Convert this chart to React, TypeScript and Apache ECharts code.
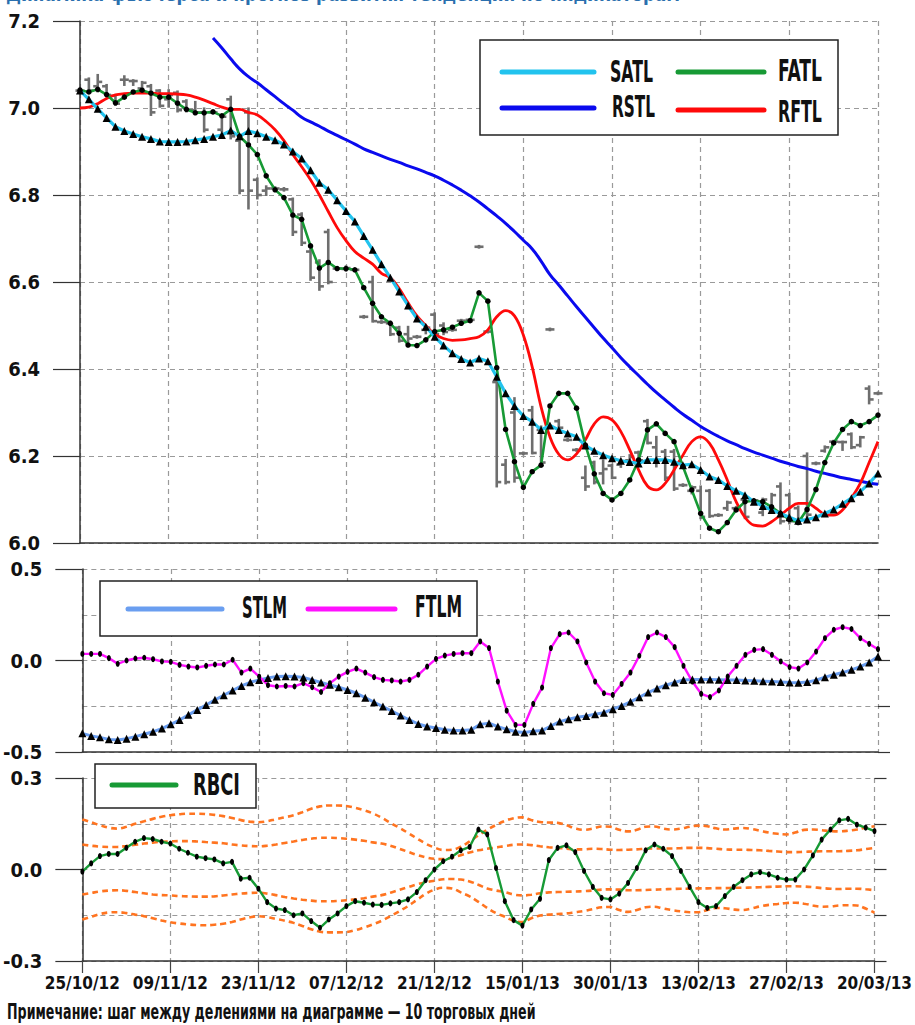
import React, { useEffect, useRef } from 'react';
import * as echarts from 'echarts';

const FONT = "'Liberation Sans Narrow', 'Arial Narrow', 'DejaVu Sans Condensed', sans-serif";

const tickLabels = ['25/10/12', '09/11/12', '23/11/12', '07/12/12', '21/12/12', '15/01/13', '30/01/13', '13/02/13', '27/02/13', '20/03/13'];

const satl = [7.040, 7.020, 6.998, 6.977, 6.957, 6.947, 6.940, 6.934, 6.929, 6.923,
  6.922, 6.922, 6.923, 6.926, 6.929, 6.934, 6.938, 6.948, 6.935, 6.947,
  6.942, 6.934, 6.926, 6.916, 6.900, 6.884, 6.857, 6.828, 6.812, 6.788,
  6.763, 6.739, 6.706, 6.674, 6.641, 6.610, 6.578, 6.546, 6.516, 6.497,
  6.474, 6.454, 6.436, 6.423, 6.415, 6.424, 6.418, 6.382, 6.344, 6.315,
  6.292, 6.279, 6.260, 6.270, 6.260, 6.252, 6.244, 6.224, 6.212, 6.202,
  6.195, 6.189, 6.186, 6.183, 6.191, 6.191, 6.191, 6.187, 6.179, 6.181,
  6.168, 6.153, 6.145, 6.131, 6.120, 6.110, 6.095, 6.085, 6.076, 6.068,
  6.059, 6.051, 6.054, 6.059, 6.068, 6.077, 6.090, 6.103, 6.118, 6.137,
  6.160];

const fatl = [7.041, 7.037, 7.043, 7.031, 7.012, 7.025, 7.037, 7.041, 7.034, 7.025,
  7.025, 7.011, 6.997, 6.989, 6.989, 6.991, 6.982, 6.997, 6.935, 6.915,
  6.893, 6.844, 6.812, 6.794, 6.754, 6.744, 6.683, 6.632, 6.645, 6.631,
  6.631, 6.628, 6.587, 6.551, 6.520, 6.505, 6.482, 6.455, 6.454, 6.467,
  6.486, 6.490, 6.496, 6.505, 6.511, 6.575, 6.556, 6.403, 6.261, 6.187,
  6.128, 6.164, 6.179, 6.315, 6.344, 6.344, 6.310, 6.225, 6.159, 6.114,
  6.099, 6.114, 6.145, 6.191, 6.260, 6.274, 6.252, 6.233, 6.176, 6.122,
  6.068, 6.034, 6.026, 6.047, 6.076, 6.095, 6.097, 6.095, 6.083, 6.068,
  6.054, 6.047, 6.077, 6.123, 6.185, 6.230, 6.261, 6.279, 6.270, 6.279,
  6.294];

const rftl = [7.000, 7.002, 7.010, 7.022, 7.030, 7.033, 7.034, 7.034, 7.034, 7.033,
  7.033, 7.032, 7.030, 7.025, 7.018, 7.010, 7.002, 6.997, 6.997, 6.990,
  6.984, 6.969, 6.950, 6.925, 6.893, 6.865, 6.835, 6.800, 6.762, 6.725,
  6.695, 6.670, 6.655, 6.641, 6.620, 6.610, 6.585, 6.552, 6.522, 6.500,
  6.480, 6.470, 6.466, 6.467, 6.470, 6.474, 6.490, 6.520, 6.534, 6.522,
  6.478, 6.405, 6.313, 6.244, 6.204, 6.191, 6.205, 6.237, 6.274, 6.290,
  6.283, 6.256, 6.214, 6.168, 6.131, 6.122, 6.137, 6.168, 6.202, 6.233,
  6.244, 6.229, 6.191, 6.145, 6.095, 6.059, 6.041, 6.039, 6.049, 6.064,
  6.080, 6.091, 6.091, 6.080, 6.066, 6.064, 6.076, 6.103, 6.137, 6.185,
  6.233];

const rstl = [null, null, null, null, null, null, null, null, null, null,
  null, null, null, null, null, 7.161, 7.138, 7.113, 7.090, 7.072,
  7.058, 7.042, 7.026, 7.010, 6.995, 6.979, 6.968, 6.958, 6.947, 6.937,
  6.927, 6.917, 6.906, 6.898, 6.890, 6.882, 6.875, 6.867, 6.860, 6.852,
  6.844, 6.834, 6.823, 6.811, 6.798, 6.784, 6.768, 6.752, 6.735, 6.716,
  6.696, 6.676, 6.648, 6.617, 6.593, 6.568, 6.543, 6.519, 6.495, 6.471,
  6.449, 6.426, 6.405, 6.385, 6.365, 6.346, 6.329, 6.312, 6.296, 6.282,
  6.268, 6.256, 6.245, 6.235, 6.226, 6.217, 6.209, 6.202, 6.195, 6.188,
  6.182, 6.176, 6.171, 6.165, 6.160, 6.155, 6.150, 6.146, 6.142, 6.138,
  6.135];

const barOpen = [7.040, 7.065, 7.050, 7.050, 7.028, 7.065, 7.062, 7.045, 7.050, 7.040,
  7.020, 7.035, 7.015, 6.995, 6.990, 6.990, 6.950, 7.020, 6.925, 6.990,
  6.835, 6.810, 6.815, 6.813, 6.790, 6.755, 6.670, 6.645, 6.715, 6.631,
  6.630, 6.628, 6.520, 6.600, 6.508, 6.505, 6.495, 6.480, 6.474, 6.490,
  6.525, 6.500, 6.490, 6.511, 6.513, 6.681, 6.486, 6.370, 6.180, 6.300,
  6.206, 6.305, 6.260, 6.491, 6.280, 6.237, 6.214, 6.150, 6.185, 6.160,
  6.178, 6.180, 6.190, 6.208, 6.280, 6.220, 6.210, 6.210, 6.133, 6.120,
  6.120, 6.120, 6.064, 6.080, 6.080, 6.100, 6.098, 6.070, 6.080, 6.130,
  6.110, 6.080, 6.200, 6.183, 6.212, 6.233, 6.232, 6.250, 6.225, 6.355,
  6.344];
const barHigh = [7.045, 7.068, 7.076, 7.053, 7.030, 7.073, 7.064, 7.060, 7.053, 7.041,
  7.041, 7.038, 7.018, 7.014, 6.999, 6.995, 6.984, 7.026, 6.930, 6.999,
  6.838, 6.820, 6.818, 6.816, 6.792, 6.758, 6.677, 6.650, 6.720, 6.634,
  6.636, 6.630, 6.522, 6.612, 6.510, 6.509, 6.497, 6.497, 6.476, 6.497,
  6.528, 6.505, 6.492, 6.513, 6.515, 6.683, 6.488, 6.382, 6.191, 6.333,
  6.208, 6.313, 6.268, 6.493, 6.283, 6.239, 6.216, 6.176, 6.187, 6.190,
  6.180, 6.190, 6.202, 6.210, 6.283, 6.244, 6.214, 6.214, 6.135, 6.130,
  6.130, 6.122, 6.066, 6.095, 6.083, 6.106, 6.100, 6.102, 6.113, 6.137,
  6.113, 6.084, 6.206, 6.185, 6.222, 6.235, 6.233, 6.252, 6.244, 6.360,
  6.346];
const barLow = [7.035, 7.034, 7.038, 7.027, 7.007, 7.053, 7.053, 7.038, 6.984, 7.003,
  7.003, 6.992, 6.992, 6.988, 6.946, 6.988, 6.946, 6.930, 6.804, 6.769,
  6.792, 6.800, 6.812, 6.810, 6.708, 6.685, 6.605, 6.582, 6.597, 6.629,
  6.626, 6.625, 6.518, 6.509, 6.506, 6.478, 6.463, 6.459, 6.472, 6.482,
  6.478, 6.480, 6.488, 6.509, 6.511, 6.679, 6.484, 6.130, 6.137, 6.141,
  6.204, 6.206, 6.180, 6.489, 6.260, 6.235, 6.212, 6.122, 6.137, 6.137,
  6.149, 6.175, 6.180, 6.187, 6.229, 6.176, 6.145, 6.122, 6.131, 6.114,
  6.057, 6.060, 6.062, 6.076, 6.075, 6.057, 6.095, 6.064, 6.070, 6.045,
  6.045, 6.053, 6.060, 6.181, 6.210, 6.231, 6.214, 6.218, 6.222, 6.321,
  6.342];
const barClose = [7.040, 7.040, 7.060, 7.030, 7.010, 7.065, 7.062, 7.058, 6.990, 7.005,
  7.030, 6.995, 6.995, 6.990, 6.950, 6.990, 6.980, 6.935, 6.810, 6.810,
  6.800, 6.815, 6.815, 6.813, 6.715, 6.690, 6.610, 6.590, 6.600, 6.631,
  6.632, 6.628, 6.520, 6.510, 6.508, 6.480, 6.465, 6.470, 6.474, 6.495,
  6.480, 6.485, 6.490, 6.511, 6.513, 6.681, 6.486, 6.140, 6.140, 6.150,
  6.206, 6.207, 6.185, 6.491, 6.265, 6.237, 6.214, 6.130, 6.140, 6.170,
  6.150, 6.188, 6.198, 6.190, 6.230, 6.190, 6.150, 6.125, 6.133, 6.128,
  6.060, 6.062, 6.064, 6.093, 6.080, 6.060, 6.098, 6.100, 6.110, 6.050,
  6.050, 6.055, 6.065, 6.183, 6.220, 6.233, 6.232, 6.220, 6.243, 6.330,
  6.344];

const stlm = [-0.398, -0.412, -0.420, -0.431, -0.434, -0.427, -0.416, -0.403, -0.389, -0.372,
  -0.349, -0.325, -0.297, -0.270, -0.243, -0.215, -0.190, -0.164, -0.139, -0.119,
  -0.106, -0.095, -0.088, -0.086, -0.088, -0.093, -0.106, -0.120, -0.133, -0.146,
  -0.161, -0.179, -0.203, -0.228, -0.252, -0.276, -0.301, -0.325, -0.347, -0.361,
  -0.369, -0.378, -0.383, -0.383, -0.378, -0.349, -0.343, -0.361, -0.376, -0.389,
  -0.394, -0.387, -0.383, -0.358, -0.334, -0.321, -0.310, -0.303, -0.294, -0.285,
  -0.266, -0.248, -0.226, -0.201, -0.175, -0.153, -0.135, -0.120, -0.106, -0.104,
  -0.104, -0.104, -0.105, -0.106, -0.107, -0.109, -0.111, -0.113, -0.115, -0.117,
  -0.120, -0.121, -0.118, -0.108, -0.091, -0.078, -0.066, -0.051, -0.033, -0.011,
  0.022];

const ftlm = [0.036, 0.036, 0.036, 0.013, -0.018, 0.000, 0.011, 0.015, 0.007, -0.005,
  -0.007, -0.024, -0.033, -0.038, -0.029, -0.022, -0.022, 0.004, -0.066, -0.044,
  -0.088, -0.135, -0.142, -0.139, -0.142, -0.124, -0.146, -0.172, -0.124, -0.088,
  -0.062, -0.044, -0.066, -0.091, -0.106, -0.109, -0.115, -0.106, -0.078, -0.033,
  0.009, 0.027, 0.036, 0.040, 0.040, 0.104, 0.068, -0.115, -0.274, -0.352,
  -0.352, -0.237, -0.148, 0.068, 0.144, 0.153, 0.104, -0.011, -0.115, -0.179,
  -0.188, -0.128, -0.066, 0.026, 0.128, 0.153, 0.128, 0.073, -0.029, -0.115,
  -0.182, -0.200, -0.164, -0.088, -0.029, 0.031, 0.058, 0.062, 0.031, -0.005,
  -0.036, -0.044, -0.011, 0.049, 0.122, 0.168, 0.182, 0.172, 0.122, 0.091,
  0.062];

const rbci = [-0.007, 0.020, 0.044, 0.051, 0.051, 0.071, 0.091, 0.103, 0.100, 0.091,
  0.085, 0.068, 0.055, 0.042, 0.037, 0.033, 0.020, 0.025, -0.030, -0.027,
  -0.063, -0.107, -0.128, -0.133, -0.150, -0.144, -0.169, -0.191, -0.164, -0.144,
  -0.120, -0.104, -0.109, -0.115, -0.116, -0.111, -0.107, -0.098, -0.074, -0.035,
  0.000, 0.027, 0.042, 0.063, 0.074, 0.131, 0.115, 0.005, -0.104, -0.166,
  -0.184, -0.131, -0.096, 0.031, 0.071, 0.079, 0.057, -0.005, -0.057, -0.093,
  -0.098, -0.079, -0.044, 0.005, 0.063, 0.082, 0.068, 0.044, -0.005, -0.057,
  -0.107, -0.126, -0.120, -0.087, -0.057, -0.035, -0.016, -0.009, -0.016, -0.027,
  -0.033, -0.033, 0.000, 0.046, 0.098, 0.131, 0.161, 0.166, 0.147, 0.137,
  0.126];

const bandOuterUp = [0.164, 0.155, 0.145, 0.137, 0.134, 0.140, 0.150, 0.158, 0.166, 0.173,
  0.178, 0.181, 0.183, 0.183, 0.182, 0.179, 0.175, 0.169, 0.162, 0.157,
  0.155, 0.158, 0.165, 0.171, 0.178, 0.188, 0.199, 0.207, 0.210, 0.210,
  0.208, 0.202, 0.194, 0.184, 0.170, 0.153, 0.137, 0.120, 0.102, 0.085,
  0.072, 0.064, 0.065, 0.075, 0.092, 0.112, 0.130, 0.146, 0.159, 0.168,
  0.171, 0.162, 0.156, 0.154, 0.153, 0.145, 0.135, 0.130, 0.134, 0.141,
  0.140, 0.130, 0.125, 0.130, 0.140, 0.141, 0.134, 0.131, 0.134, 0.140,
  0.144, 0.142, 0.135, 0.131, 0.134, 0.136, 0.133, 0.127, 0.121, 0.117,
  0.115, 0.121, 0.130, 0.131, 0.129, 0.126, 0.125, 0.127, 0.131, 0.137,
  0.142];
const bandInnerUp = [0.082, 0.078, 0.075, 0.074, 0.074, 0.077, 0.081, 0.085, 0.088, 0.091,
  0.092, 0.093, 0.093, 0.092, 0.090, 0.088, 0.086, 0.082, 0.079, 0.077,
  0.076, 0.078, 0.082, 0.087, 0.092, 0.097, 0.101, 0.104, 0.104, 0.103,
  0.101, 0.098, 0.094, 0.089, 0.085, 0.078, 0.068, 0.058, 0.048, 0.040,
  0.035, 0.034, 0.039, 0.047, 0.056, 0.063, 0.068, 0.072, 0.077, 0.081,
  0.082, 0.080, 0.076, 0.073, 0.071, 0.068, 0.066, 0.066, 0.068, 0.067,
  0.065, 0.064, 0.065, 0.066, 0.068, 0.069, 0.069, 0.069, 0.070, 0.071,
  0.071, 0.070, 0.068, 0.066, 0.065, 0.065, 0.064, 0.063, 0.061, 0.059,
  0.057, 0.057, 0.058, 0.059, 0.060, 0.060, 0.060, 0.061, 0.063, 0.067,
  0.071];
const bandInnerLow = [-0.082, -0.077, -0.072, -0.069, -0.068, -0.070, -0.074, -0.078, -0.082, -0.084,
  -0.085, -0.087, -0.088, -0.089, -0.089, -0.088, -0.085, -0.082, -0.079, -0.077,
  -0.076, -0.079, -0.084, -0.090, -0.095, -0.099, -0.102, -0.104, -0.104, -0.103,
  -0.101, -0.098, -0.094, -0.089, -0.084, -0.076, -0.067, -0.058, -0.049, -0.042,
  -0.037, -0.032, -0.031, -0.033, -0.039, -0.050, -0.062, -0.069, -0.074, -0.082,
  -0.085, -0.083, -0.078, -0.075, -0.074, -0.073, -0.072, -0.071, -0.069, -0.066,
  -0.065, -0.066, -0.068, -0.068, -0.067, -0.066, -0.065, -0.064, -0.063, -0.063,
  -0.062, -0.062, -0.061, -0.061, -0.060, -0.060, -0.059, -0.058, -0.057, -0.056,
  -0.055, -0.055, -0.056, -0.058, -0.061, -0.063, -0.064, -0.063, -0.063, -0.065,
  -0.068];
const bandOuterLow = [-0.164, -0.155, -0.146, -0.141, -0.140, -0.143, -0.148, -0.153, -0.160, -0.167,
  -0.173, -0.177, -0.180, -0.182, -0.183, -0.181, -0.178, -0.172, -0.164, -0.157,
  -0.153, -0.156, -0.162, -0.168, -0.175, -0.185, -0.196, -0.204, -0.206, -0.206,
  -0.205, -0.199, -0.190, -0.180, -0.168, -0.153, -0.137, -0.120, -0.100, -0.080,
  -0.066, -0.060, -0.062, -0.075, -0.088, -0.106, -0.126, -0.143, -0.155, -0.168,
  -0.172, -0.160, -0.151, -0.148, -0.146, -0.144, -0.140, -0.136, -0.130, -0.124,
  -0.123, -0.133, -0.139, -0.133, -0.124, -0.122, -0.128, -0.133, -0.137, -0.140,
  -0.140, -0.133, -0.126, -0.127, -0.131, -0.133, -0.128, -0.121, -0.116, -0.113,
  -0.110, -0.109, -0.112, -0.118, -0.122, -0.121, -0.118, -0.117, -0.118, -0.128,
  -0.142];

const pair = (arr: (number | null)[]) => arr.map((v, i) => [i, v]);

export default function App() {
  const ref = useRef<HTMLDivElement>(null);
  useEffect(() => {
    const chart = echarts.init(ref.current!, null, { renderer: 'svg' });
    const canvas = document.createElement('canvas');
    const ctx = canvas.getContext('2d');
    const fit = (text: string, size: number, target: number) => {
      if (!ctx) return 1;
      ctx.font = `bold ${size}px ${FONT}`;
      const w = ctx.measureText(text).width;
      return w > 0 ? target / w : 1;
    };

    const dash = { type: [5, 4] as any, color: '#9a9a9a', width: 1.2 };
    const axisLine = { show: true, onZero: false, lineStyle: { color: '#333', width: 1.5 } };
    const yLabelStyle = { fontSize: 20, fontWeight: 'bold' as const, fontFamily: FONT, color: '#111' };
    const xLabelStyle = { fontSize: 17, fontWeight: 'bold' as const, fontFamily: FONT, color: '#111' };
    const fmt1 = (v: number) => (Math.abs(v) < 1e-9 ? '0.0' : v.toFixed(1));

    const grids = [
      { left: 80, top: 21, width: 798, height: 522 },
      { left: 80, top: 569, width: 798, height: 183 },
      { left: 80, top: 778, width: 798, height: 183 },
    ];

    const xAxes = [0, 1, 2].map((g) => ({
      type: 'value', gridIndex: g, min: 0, max: 90, interval: 10,
      axisLine,
      axisTick: { show: g === 2, length: 12, lineStyle: { color: '#444', width: 1.2 } },
      axisLabel: {
        show: g === 2, margin: 13, showMinLabel: true, showMaxLabel: true, hideOverlap: false,
        formatter: (v: number) => tickLabels[Math.round(v / 10)], ...xLabelStyle,
      },
      splitLine: { show: true, lineStyle: dash },
    }));

    const yAxes = [
      {
        type: 'value', gridIndex: 0, min: 6.0, max: 7.2, interval: 0.2, axisLine,
        axisTick: { show: true, length: 27, lineStyle: { color: '#333', width: 1.2 } },
        axisLabel: { margin: 40, formatter: fmt1, showMinLabel: true, showMaxLabel: true, ...yLabelStyle },
        splitLine: { show: true, lineStyle: dash },
      },
      {
        type: 'value', gridIndex: 1, min: -0.5, max: 0.5, interval: 0.5, axisLine,
        axisTick: { show: true, length: 27, lineStyle: { color: '#333', width: 1.2 } },
        axisLabel: { margin: 40, formatter: fmt1, showMinLabel: true, showMaxLabel: true, ...yLabelStyle },
        splitLine: { show: false },
      },
      {
        type: 'value', gridIndex: 1, min: -0.5, max: 0.5, interval: 0.25,
        axisLine: { show: false, onZero: false },
        axisTick: { show: true, length: 12, lineStyle: { color: '#333', width: 1.2 } },
        axisLabel: { show: false },
        splitLine: { show: true, lineStyle: dash },
      },
      {
        type: 'value', gridIndex: 2, min: -0.3, max: 0.3, interval: 0.3, axisLine,
        axisTick: { show: true, length: 27, lineStyle: { color: '#333', width: 1.2 } },
        axisLabel: { margin: 40, formatter: fmt1, showMinLabel: true, showMaxLabel: true, ...yLabelStyle },
        splitLine: { show: false },
      },
      {
        type: 'value', gridIndex: 2, min: -0.3, max: 0.3, interval: 0.15,
        axisLine: { show: false, onZero: false },
        axisTick: { show: true, length: 12, lineStyle: { color: '#333', width: 1.2 } },
        axisLabel: { show: false },
        splitLine: { show: true, lineStyle: dash },
      },
    ];

    const bars = barOpen.map((o, i) => [i, o, barHigh[i], barLow[i], barClose[i]]);
    const barStyle = { stroke: '#6e6e6e', lineWidth: 2.6 };

    const line = (name: string, data: any[], xi: number, yi: number, color: string, width: number, extra: any = {}) => ({
      type: 'line', name, data, xAxisIndex: xi, yAxisIndex: yi,
      showSymbol: false, symbol: 'none',
      lineStyle: { color, width },
      itemStyle: { color: '#000' },
      silent: true,
      ...extra,
    });

    const bandOpts = { smooth: 0.4, lineStyle: { color: '#ff7420', width: 2.6, type: [6, 4] } };

    const series: any[] = [
      {
        type: 'custom', name: 'bars', xAxisIndex: 0, yAxisIndex: 0, data: bars, silent: true,
        encode: { x: 0, y: [1, 2, 3, 4] },
        renderItem: (params: any, api: any) => {
          const i = api.value(0);
          const op = api.coord([i, api.value(1)]);
          const hi = api.coord([i, api.value(2)]);
          const lo = api.coord([i, api.value(3)]);
          const cl = api.coord([i, api.value(4)]);
          const w = 4.5;
          return {
            type: 'group',
            children: [
              { type: 'line', shape: { x1: hi[0], y1: hi[1] - 1, x2: lo[0], y2: lo[1] + 1 }, style: barStyle },
              { type: 'line', shape: { x1: op[0] - w, y1: op[1], x2: op[0], y2: op[1] }, style: barStyle },
              { type: 'line', shape: { x1: cl[0], y1: cl[1], x2: cl[0] + w, y2: cl[1] }, style: barStyle },
            ],
          };
        },
      },
      line('RSTL', rstl.map((v, i) => (v == null ? null : [i, v])).filter(Boolean), 0, 0, '#0a0aee', 3, { smooth: 0.5 }),
      line('RFTL', pair(rftl), 0, 0, '#ff0a0a', 2.8, { smooth: 0.4 }),
      line('FATL', pair(fatl), 0, 0, '#179a35', 2.6, { showSymbol: true, symbol: 'circle', symbolSize: 5.5 }),
      line('SATL', pair(satl), 0, 0, '#22c3ee', 3.2, { showSymbol: true, symbol: 'triangle', symbolSize: 8 }),
      line('STLM', pair(stlm), 1, 2, '#6a9ef0', 3, { showSymbol: true, symbol: 'triangle', symbolSize: 8 }),
      line('FTLM', pair(ftlm), 1, 2, '#ff10ff', 2.4, { showSymbol: true, symbol: 'circle', symbolSize: [4, 6] }),
      line('Band1', pair(bandOuterUp), 2, 4, '#ff7420', 2.6, bandOpts),
      line('Band2', pair(bandInnerUp), 2, 4, '#ff7420', 2.6, bandOpts),
      line('Band3', pair(bandInnerLow), 2, 4, '#ff7420', 2.6, bandOpts),
      line('Band4', pair(bandOuterLow), 2, 4, '#ff7420', 2.6, bandOpts),
      line('RBCI', pair(rbci), 2, 4, '#179a35', 2.4, { showSymbol: true, symbol: 'circle', symbolSize: [4, 6] }),
    ];

    const LS = 30;
    const box = (x: number, y: number, w: number, h: number) => ({
      type: 'rect', shape: { x, y, width: w, height: h }, z: 100,
      style: { fill: '#fff', stroke: '#222', lineWidth: 1.5 },
    });
    const lsample = (x1: number, x2: number, y: number, color: string) => ({
      type: 'line', shape: { x1, y1: y, x2, y2: y }, z: 101,
      style: { stroke: color, lineWidth: 5, lineCap: 'round' },
    });
    const ltext = (x: number, y: number, text: string, target: number) => ({
      type: 'text', x, y, z: 101, scaleX: fit(text, LS, target),
      style: { text, fontSize: LS, fontWeight: 'bold', fontFamily: FONT, fill: '#111', align: 'left', verticalAlign: 'middle' },
    });

    const note = 'Примечание: шаг между делениями на диаграмме — 10 торговых дней';
    const title = 'Динамика фьючерса и прогноз развития тенденций по индикаторам';

    const graphic: any[] = [
      {
        type: 'text', x: 6, y: 4, z: 100, scaleX: 0.85,
        style: { text: title, fontSize: 22, fontWeight: 'bold', fontFamily: FONT, fill: '#2a6fae', align: 'left', verticalAlign: 'bottom' },
      },
      box(480, 40, 358, 95),
      lsample(502, 594, 72, '#22c3ee'),
      ltext(610, 72, 'SATL', 43),
      lsample(678, 764, 72, '#179a35'),
      ltext(778, 71, 'FATL', 44),
      lsample(502, 594, 108, '#0a0aee'),
      ltext(612, 107, 'RSTL', 43),
      lsample(678, 764, 110, '#ff0a0a'),
      ltext(778, 112, 'RFTL', 44),

      box(100, 581, 377, 55),
      lsample(128, 222, 609, '#6a9ef0'),
      ltext(242, 608, 'STLM', 45),
      lsample(308, 395, 609, '#ff10ff'),
      ltext(415, 607, 'FTLM', 47),

      box(95, 764, 161, 44),
      lsample(112, 176, 785, '#179a35'),
      ltext(193, 784, 'RBCI', 47),

      {
        type: 'text', x: 7, y: 1011, z: 100, scaleX: fit(note, 21, 529),
        style: { text: note, fontSize: 21, fontWeight: 'bold', fontFamily: FONT, fill: '#111', align: 'left', verticalAlign: 'middle' },
      },
    ];

    chart.setOption({
      animation: false,
      backgroundColor: '#fff',
      grid: grids,
      xAxis: xAxes,
      yAxis: yAxes,
      series,
      graphic,
    } as any);
    return () => chart.dispose();
  }, []);
  return <div ref={ref} style={{ position: 'absolute', left: 0, top: 0, width: 915, height: 1025, background: '#fff' }} />;
}
